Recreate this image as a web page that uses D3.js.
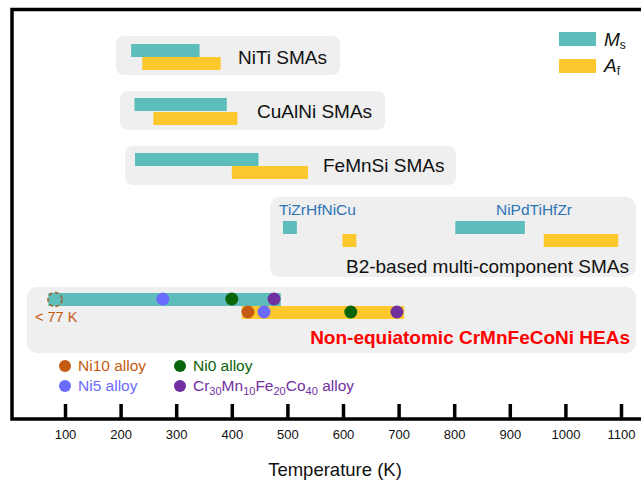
<!DOCTYPE html>
<html lang="en">
<head>
  <meta charset="UTF-8">
  <title>Transformation temperatures of SMAs and HEAs</title>
  <script src="https://d3js.org/d3.v7.min.js"></script>
  <style>
    body {
      margin: 0;
      background: #fff;
      font-family: Arial, "Liberation Sans", sans-serif;
    }
  </style>
</head>
<body>

<svg id="chart" width="641" height="483"></svg>

<script>
// Data (temperatures in K)
const smaNames = ["NiTi SMAs", "CuAlNi SMAs", "FeMnSi SMAs"];
const smaMs = [[219, 342], [225, 391], [226, 448]];
const smaAf = [[239, 380], [259, 410], [400, 537]];

const b2Names = ["TiZrHfNiCu", "NiPdTiHfZr"];
const b2Ms = [[492, 517], [802, 927]];
const b2Af = [[599, 624], [961, 1095]];

const heaMs = [70, 488];
const heaAf = [418, 710];
const alloys = ["Ni10", "Ni5", "Ni0", "Cr30Mn10Fe20Co40"];
const alloyMs = [null, 276, 400, 476];
const alloyAf = [429, 458, 614, 697];
const below77 = 82;

const tickValues = [100, 200, 300, 400, 500, 600, 700, 800, 900, 1000, 1100];

// Styles
const teal = "#5cbdbb";
const yellow = "#fcc82d";
const boxFill = "#efefef";
const alloyColors = ["#c55a11", "#6b6bff", "#0a640a", "#7030a0"];

const svg = d3.select("#chart");

const x = d3.scaleLinear().domain([100, 1100]).range([65, 621]);

// layout for each group: box and rows (pixels)
const smaLayout = [
  {box: [116, 36, 224, 39], msY: 44, afY: 57, textX: 238, textY: 57},
  {box: [120, 91, 265, 39], msY: 98, afY: 112, textX: 257, textY: 111},
  {box: [125, 146, 331, 39], msY: 153, afY: 166, textX: 323, textY: 165}
];
const barH = 13;

// background boxes
smaLayout.forEach((l, i) => {
  svg.append("rect")
    .attr("x", l.box[0]).attr("y", l.box[1])
    .attr("width", l.box[2]).attr("height", l.box[3])
    .attr("rx", 8).attr("fill", boxFill);
});
svg.append("rect").attr("x", 270).attr("y", 197).attr("width", 366).attr("height", 80)
  .attr("rx", 10).attr("fill", boxFill);
svg.append("rect").attr("x", 27).attr("y", 287).attr("width", 609).attr("height", 66)
  .attr("rx", 10).attr("fill", boxFill);

// SMA bars
const bar = (range, y, color) => svg.append("rect")
  .attr("x", x(range[0])).attr("y", y)
  .attr("width", x(range[1]) - x(range[0])).attr("height", barH)
  .attr("fill", color);

smaNames.forEach((name, i) => {
  const l = smaLayout[i];
  bar(smaMs[i], l.msY, teal);
  bar(smaAf[i], l.afY, yellow);
  svg.append("text")
    .attr("x", l.textX).attr("y", l.textY)
    .attr("dy", "0.35em")
    .attr("font-size", 19)
    .attr("fill", "#111")
    .text(name);
});

// B2 group
b2Names.forEach((name, i) => {
  bar(b2Ms[i], 221, teal);
  bar(b2Af[i], 234, yellow);
});
svg.append("text").attr("x", 279).attr("y", 210).attr("dy", "0.35em")
  .attr("font-size", 15.5).attr("fill", "#2e75b6").text(b2Names[0]);
svg.append("text").attr("x", 534).attr("y", 210).attr("dy", "0.35em")
  .attr("text-anchor", "middle")
  .attr("font-size", 15.5).attr("fill", "#2e75b6").text(b2Names[1]);
svg.append("text").attr("x", 629).attr("y", 266).attr("dy", "0.35em")
  .attr("text-anchor", "end")
  .attr("font-size", 19).attr("fill", "#111").text("B2-based multi-component SMAs");

// HEA group
bar(heaMs, 293, teal);
bar(heaAf, 306, yellow);

svg.append("circle")
  .attr("cx", x(below77)).attr("cy", 299.5).attr("r", 7)
  .attr("fill", "none").attr("stroke", "#96662a")
  .attr("stroke-width", 1.6).attr("stroke-dasharray", "4,2.5");

alloys.forEach((a, i) => {
  if (alloyMs[i] !== null) {
    svg.append("circle").attr("cx", x(alloyMs[i])).attr("cy", 299)
      .attr("r", 6.5).attr("fill", alloyColors[i]);
  }
  svg.append("circle").attr("cx", x(alloyAf[i])).attr("cy", 312)
    .attr("r", 6.5).attr("fill", alloyColors[i]);
});

svg.append("text").attr("x", 35).attr("y", 317).attr("dy", "0.35em")
  .attr("font-size", 14.5).attr("fill", "#c55a11").text("< 77 K");
svg.append("text").attr("x", 630).attr("y", 337).attr("dy", "0.35em")
  .attr("text-anchor", "end").attr("font-weight", "bold")
  .attr("font-size", 19).attr("fill", "#ff0000")
  .text("Non-equiatomic CrMnFeCoNi HEAs");

// alloy legend
const legendPos = [[65, 366], [65, 386], [180, 366], [180, 386]];
alloys.forEach((a, i) => {
  const [lx, ly] = legendPos[i];
  svg.append("circle").attr("cx", lx).attr("cy", ly).attr("r", 6).attr("fill", alloyColors[i]);
  const t = svg.append("text").attr("x", lx + 13).attr("y", ly).attr("dy", "0.35em")
    .attr("font-size", 15.5).attr("fill", alloyColors[i]);
  if (i === 3) {
    [["Cr", false], ["30", true], ["Mn", false], ["10", true], ["Fe", false], ["20", true],
     ["Co", false], ["40", true], [" alloy", false]].forEach(([s, sub]) => {
      const ts = t.append("tspan").text(s);
      if (sub) ts.attr("font-size", 11).attr("dy", 4);
      else if (s !== "Cr") ts.attr("dy", -4);
    });
  } else {
    t.text(a + " alloy");
  }
});

// Ms / Af legend
svg.append("rect").attr("x", 559).attr("y", 32).attr("width", 37).attr("height", 14).attr("fill", teal);
svg.append("rect").attr("x", 559).attr("y", 59).attr("width", 37).attr("height", 14).attr("fill", yellow);
const ms = svg.append("text").attr("x", 604).attr("y", 46).attr("font-size", 19).attr("fill", "#111");
ms.append("tspan").attr("font-style", "italic").text("M");
ms.append("tspan").attr("font-size", 12).attr("dy", 3).text("s");
const af = svg.append("text").attr("x", 604).attr("y", 72).attr("font-size", 19).attr("fill", "#111");
af.append("tspan").attr("font-style", "italic").text("A");
af.append("tspan").attr("font-size", 12).attr("dy", 3).text("f");

// Axis
const axisY = 419;
const axis = svg.append("g")
  .attr("transform", `translate(0,${axisY})`)
  .call(d3.axisBottom(x).tickValues(tickValues).tickFormat(d3.format("d"))
    .tickSize(-15).tickSizeOuter(0).tickPadding(11));
axis.select(".domain").remove();
axis.selectAll(".tick line").attr("stroke", "#000").attr("stroke-width", 3.5);
axis.selectAll(".tick text").attr("font-size", 13).attr("font-family", "Arial, 'Liberation Sans', sans-serif").attr("fill", "#111");

// Frame
svg.append("path")
  .attr("d", `M641,9.5 H12 V${axisY} H641`)
  .attr("fill", "none").attr("stroke", "#000").attr("stroke-width", 3.5);

svg.append("text").attr("x", 335).attr("y", 470).attr("dy", "0.35em")
  .attr("text-anchor", "middle").attr("font-size", 18.5).attr("fill", "#111")
  .text("Temperature (K)");
</script>

</body>
</html>
